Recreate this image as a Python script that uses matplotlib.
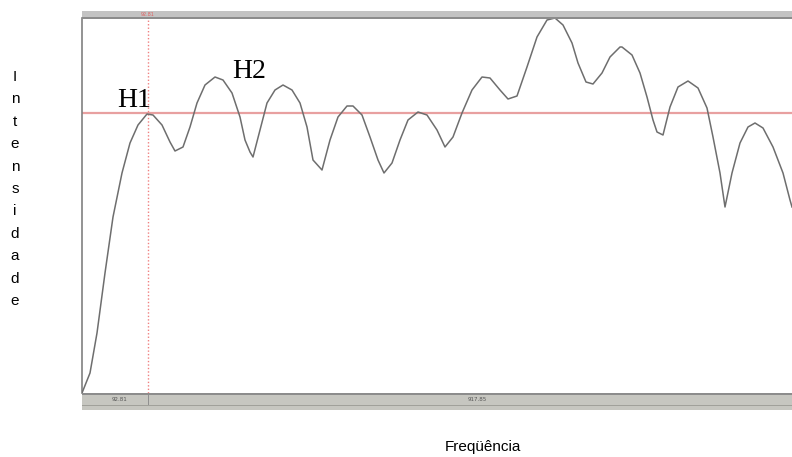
import matplotlib
matplotlib.use('Agg')
import matplotlib.pyplot as plt
import matplotlib.patches as patches

# Spectrum trace (frequency bin, intensity)
freq = [0, 8, 15, 23, 31, 40, 48, 56, 65, 71, 80, 88, 93, 101, 108, 115, 123, 133,
        141, 150, 158, 163, 168, 171, 178, 185, 193, 201, 210, 218, 225, 231, 240,
        248, 256, 265, 271, 280, 288, 296, 302, 310, 318, 326, 336, 345, 355, 363,
        371, 380, 390, 400, 408, 418, 426, 435, 445, 455, 465, 473, 481, 490, 496,
        504, 511, 520, 528, 538, 540, 550, 558, 565, 571, 575, 581, 588, 596, 606,
        616, 625, 631, 638, 643, 650, 658, 666, 673, 681, 691, 701, 708, 710]
inten = [0, 20, 60, 120, 176, 220, 250, 268, 279, 278, 268, 251, 242, 246, 266,
         290, 308, 316, 313, 300, 276, 253, 241, 236, 263, 290, 303, 308, 303, 290,
         266, 233, 223, 253, 276, 287, 287, 278, 256, 233, 220, 230, 253, 273, 281,
         278, 263, 246, 256, 280, 303, 316, 315, 303, 294, 297, 326, 356, 373, 375,
         368, 350, 330, 311, 309, 320, 336, 346, 346, 338, 320, 296, 273, 261, 258,
         286, 306, 312, 305, 285, 256, 220, 186, 220, 250, 266, 270, 265, 246, 220,
         193, 186]

cursor_freq = 66      # vertical cursor (H1)
ref_level = 280       # horizontal reference level
cursor_label = "92.81"
center_label = "917.85"

W, H = 792, 457
fig = plt.figure(figsize=(W / 100, H / 100), dpi=100)
fig.patch.set_facecolor('white')


def fx(px):
    return px / W


def fy(py):
    return 1 - py / H


def rect(x0, y0, x1, y1, color):
    fig.patches.append(patches.Rectangle((fx(x0), fy(y1)), fx(x1) - fx(x0), fy(y0) - fy(y1),
                                         transform=fig.transFigure, facecolor=color,
                                         edgecolor='none', zorder=0))


# plot area
ax = fig.add_axes([fx(82), fy(393), fx(792) - fx(82), fy(18) - fy(393)])
ax.plot(freq, inten, color='#6e6e6e', lw=1.1, zorder=3)
ax.axhline(ref_level, color='#e8a0a0', lw=1.6, zorder=2)
ax.axvline(cursor_freq, color='#f08080', lw=1.0, ls=(0, (1, 1.5)), zorder=2)
ax.set_xlim(0, 710)
ax.set_ylim(0, 375)
ax.set_xticks([])
ax.set_yticks([])
for s in ['top', 'right', 'bottom']:
    ax.spines[s].set_visible(False)
ax.spines['left'].set_color('#808080')
ax.spines['left'].set_linewidth(1.2)

# top bar
rect(82, 11, 792, 18, '#c3c3c3')
rect(82, 17, 792, 19, '#8c8c8c')
fig.text(fx(148), fy(14.5), cursor_label, color='#e06060', fontsize=3.5,
         ha='center', va='center')

# bottom bar
rect(82, 393, 792, 395, '#8c8c8c')
rect(82, 395, 792, 410, '#c6c6c0')
rect(82, 404.5, 792, 406, '#a0a09a')
rect(147.5, 395, 148.5, 405, '#909090')
fig.text(fx(120), fy(399.5), cursor_label, color='#555555', fontsize=4,
         ha='center', va='center')
fig.text(fx(477), fy(399.5), center_label, color='#555555', fontsize=4,
         ha='center', va='center')

# harmonic labels
fig.text(fx(117), fy(107), "H1", family='Liberation Serif', fontsize=20,
         ha='left', va='baseline')
fig.text(fx(232), fy(78), "H2", family='Liberation Serif', fontsize=20,
         ha='left', va='baseline')

# axis labels
fig.text(fx(15), fy(189), "\n".join("Intensidade"), family='Liberation Sans',
         fontsize=11, ha='center', va='center', linespacing=1.77)
fig.text(fx(483), fy(447), "Freqüência", family='Liberation Sans', fontsize=11,
         ha='center', va='center')

fig.savefig('out.png', dpi=100)
